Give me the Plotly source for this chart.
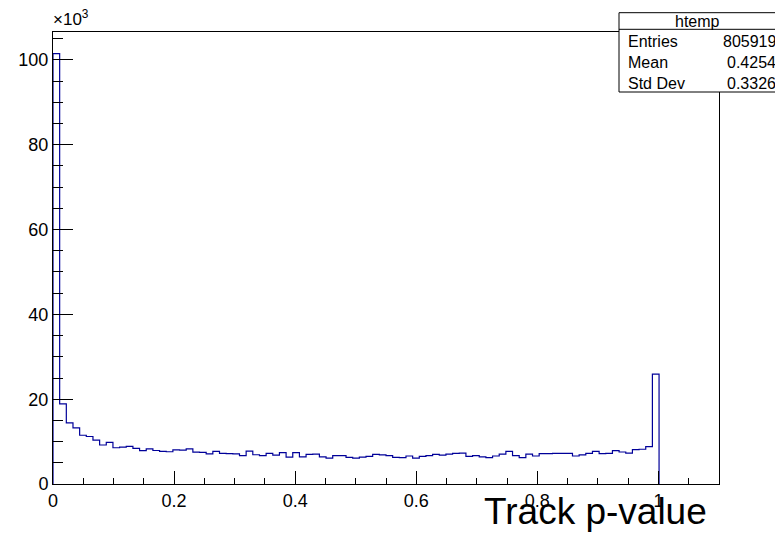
import plotly.graph_objects as go

# Track p-value histogram: 100 bins on [0, 1.1], bin width 0.011
bin_width = 0.011
counts = [
    101500, 18900, 14400, 13250, 11500, 11200, 10350, 9200, 9800, 8550,
    8700, 8850, 8400, 7850, 8300, 7900, 7700, 7600, 8050, 8000,
    8300, 7500, 7450,
    7100, 7700, 7200, 7150, 7100, 6700, 7750, 6900, 6700, 7200,
    6800, 7400, 6350, 7400, 6400, 7000, 7050, 6400, 6100, 6700,
    6700, 6300, 6100,
    6350, 6500, 7000, 6850, 6700, 6300, 6200, 6600, 6100, 6500,
    6700, 7000, 6800, 7050, 7200, 7300, 6500, 6700, 6400, 6200,
    6600, 7050, 7700,
    6700, 6200, 7050, 6600, 7150, 7150, 7200, 7200, 7200, 6600,
    6850, 7200, 7700, 7150, 7200, 7850, 7550, 7300, 8100, 8200,
    8800, 25900,
]
x_tick_vals = [0, 0.2, 0.4, 0.6, 0.8, 1.0]
x_tick_text = ["0", "0.2", "0.4", "0.6", "0.8", "1"]
y_tick_vals = [0, 20000, 40000, 60000, 80000, 100000]
y_tick_text = ["0", "20", "40", "60", "80", "100"]
stats_labels = ["Entries", "Mean", "Std Dev"]
stats_values = ["805919", "0.4254", "0.3326"]

# step outline: left edges with the count, closed back down to zero
edges = [i * bin_width for i in range(len(counts) + 1)]
xs = [0.0] + edges[:len(counts)] + [edges[len(counts)]]
ys = [0] + counts + [0]

W, H = 775, 533
L, R, T, B = 53, 719, 32, 484
y_max = 106600

fig = go.Figure()
fig.add_trace(go.Scatter(
    x=xs, y=ys, mode="lines", line_shape="hv",
    line=dict(color="#000099", width=1.2), hoverinfo="skip", showlegend=False,
))

font = "Liberation Sans, Arial, Helvetica, sans-serif"
axis_common = dict(
    showgrid=False, zeroline=False, showline=True, linecolor="black",
    linewidth=1, mirror=True, ticks="inside", tickcolor="black",
    tickwidth=1, tickfont=dict(family=font, size=18, color="black"),
)
fig.update_xaxes(
    range=[0, 1.1], tickmode="array", tickvals=x_tick_vals,
    ticktext=x_tick_text, ticklen=13,
    minor=dict(dtick=0.05, tick0=0, ticklen=6, ticks="inside",
               tickcolor="black", showgrid=False),
    **axis_common,
)
fig.update_yaxes(
    range=[0, y_max], tickmode="array", tickvals=y_tick_vals,
    ticktext=y_tick_text, ticklen=20,
    minor=dict(dtick=5000, tick0=0, ticklen=10, ticks="inside",
               tickcolor="black", showgrid=False),
    **axis_common,
)


def px_x(p):
    return (p - L) / (R - L)


def px_y(p):
    return (B - p) / (B - T)


shapes = []
annotations = []

# statistics box
box_left, box_top, head_bottom, box_bottom = 619, 12.7, 29.3, 92
shapes.append(dict(type="rect", xref="paper", yref="paper",
                   x0=px_x(box_left), x1=px_x(W + 10),
                   y0=px_y(box_bottom), y1=px_y(box_top),
                   line=dict(color="black", width=1), fillcolor="white",
                   layer="above"))
shapes.append(dict(type="line", xref="paper", yref="paper",
                   x0=px_x(box_left), x1=px_x(W + 10),
                   y0=px_y(head_bottom), y1=px_y(head_bottom),
                   line=dict(color="black", width=1), layer="above"))
annotations.append(dict(text="htemp", xref="paper", yref="paper",
                        x=px_x(697), y=px_y((box_top + head_bottom) / 2),
                        xanchor="center", yanchor="middle", showarrow=False,
                        font=dict(family=font, size=16, color="black")))
row_h = (box_bottom - head_bottom) / len(stats_labels)
for i, (lab, val) in enumerate(zip(stats_labels, stats_values)):
    yc = head_bottom + row_h * (i + 0.5) + 2
    annotations.append(dict(text=lab, xref="paper", yref="paper",
                            x=px_x(626), y=px_y(yc), xanchor="left",
                            yanchor="middle", showarrow=False,
                            font=dict(family=font, size=16, color="black")))
    annotations.append(dict(text=val, xref="paper", yref="paper",
                            x=px_x(778), y=px_y(yc), xanchor="right",
                            yanchor="middle", showarrow=False,
                            font=dict(family=font, size=16, color="black")))

# axis multiplier and x title
annotations.append(dict(text="×10<sup>3</sup>", xref="paper", yref="paper",
                        x=px_x(51), y=px_y(31), xanchor="left",
                        yanchor="bottom", showarrow=False,
                        font=dict(family=font, size=17, color="black")))
annotations.append(dict(text="Track p-value", xref="paper", yref="paper",
                        x=px_x(709), y=px_y(534), xanchor="right",
                        yanchor="bottom", showarrow=False,
                        font=dict(family=font, size=37, color="black")))

fig.update_layout(
    width=W, height=H,
    margin=dict(l=L, r=W - R, t=T, b=H - B, pad=0),
    paper_bgcolor="white", plot_bgcolor="white",
    shapes=shapes, annotations=annotations, showlegend=False,
)
fig.write_html("out.html")
